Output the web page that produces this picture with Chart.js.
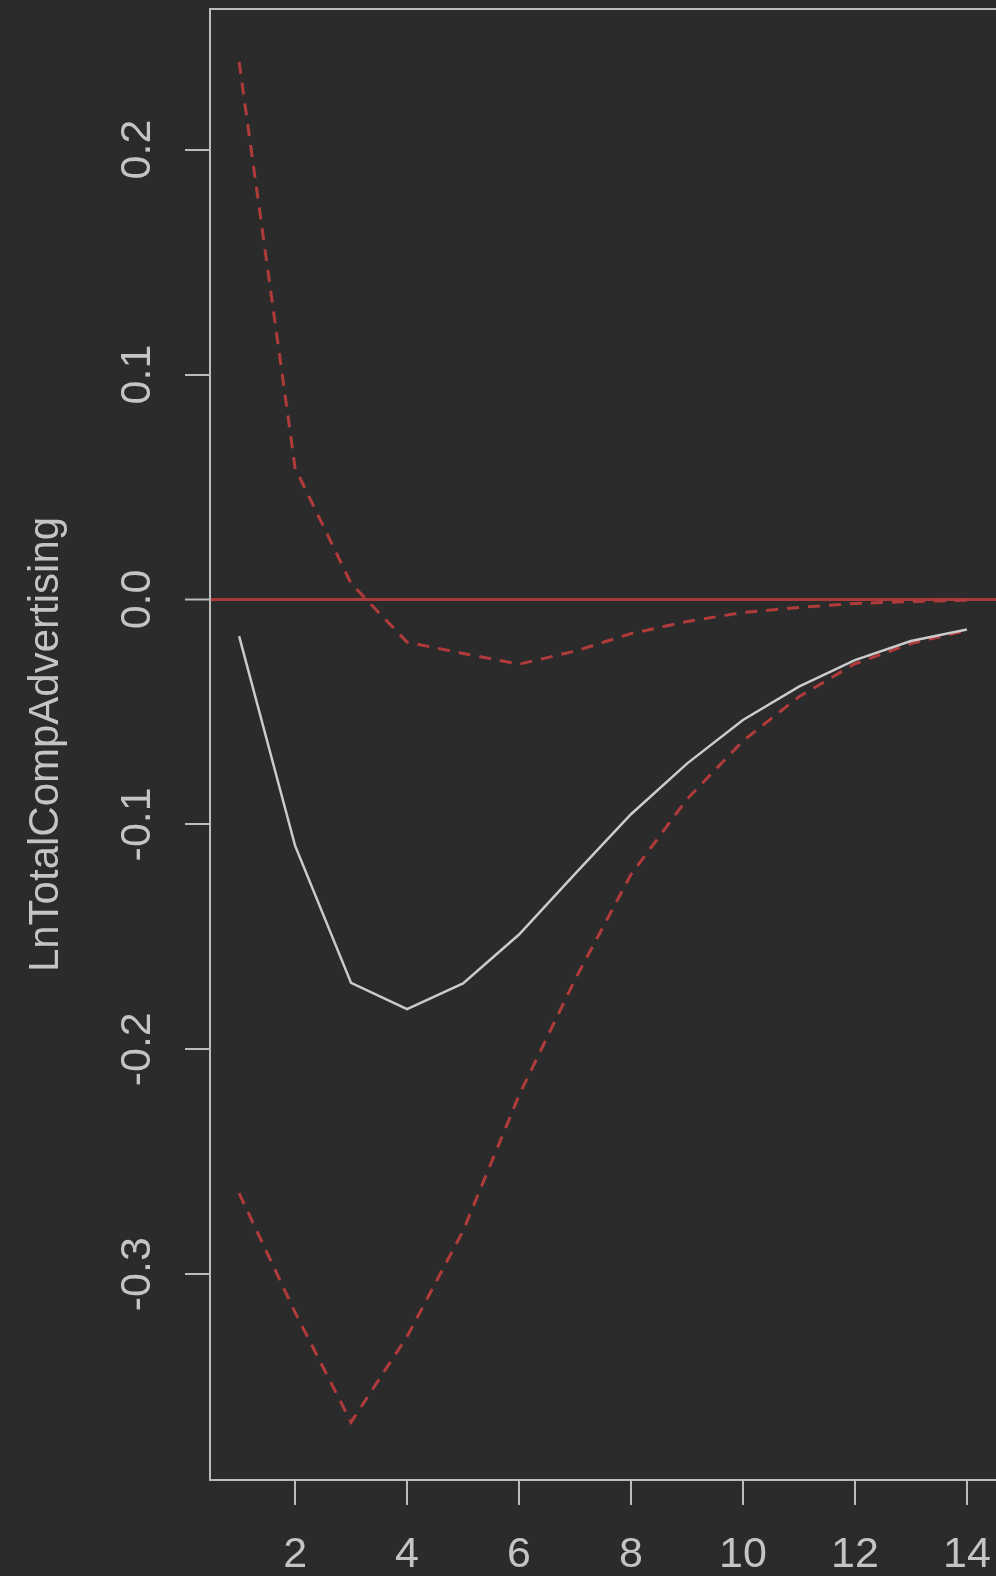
<!DOCTYPE html>
<html>
<head>
<meta charset="utf-8">
<script src="https://cdn.jsdelivr.net/npm/chart.js@4.4.1/dist/chart.umd.min.js"></script>
<style>
  html, body { margin: 0; padding: 0; background: #2b2b2b; }
  canvas { display: block; }
</style>
</head>
<body>
<canvas id="irf" width="996" height="1576"></canvas>
<script>
// impulse response with its bootstrap band, horizons 1..14
const horizons = [1, 2, 3, 4, 5, 6, 7, 8, 9, 10, 11, 12, 13, 14];
const response = [-0.0163, -0.1095, -0.1705, -0.1822, -0.1707, -0.1490, -0.1220, -0.0955, -0.0730, -0.0536, -0.0388, -0.0270, -0.0185, -0.0134];
const upperBand = [0.2390, 0.0585, 0.0071, -0.0190, -0.0240, -0.0288, -0.0230, -0.0152, -0.0098, -0.0058, -0.0036, -0.0018, -0.0009, -0.0004];
const lowerBand = [-0.2640, -0.3170, -0.3658, -0.3277, -0.2808, -0.2205, -0.1690, -0.1223, -0.0888, -0.0629, -0.0433, -0.0286, -0.0196, -0.0138];

const xTicks = [2, 4, 6, 8, 10, 12, 14];
const yTicks = [-0.3, -0.2, -0.1, 0.0, 0.1, 0.2];
const yTitle = 'LnTotalCompAdvertising';

const xRange = [0.48, 14.52];
const yRange = [-0.3915, 0.2625];

const FG = '#c4c4c4';
const AXIS = '#bcbcbc';
const RED = '#b03b3b';
const FONT = "'Liberation Sans', Arial, sans-serif";

const toPoints = vals => horizons.map((h, i) => ({ x: h, y: vals[i] }));

// keep rotated / edge labels from pushing the plot box inwards
const noPad = s => { s.paddingTop = 0; s.paddingBottom = 0; s.paddingLeft = 0; s.paddingRight = 0; };

new Chart(document.getElementById('irf'), {
  type: 'line',
  data: {
    datasets: [
      { data: toPoints(response), borderColor: '#cbcbcb', borderWidth: 2.5, pointRadius: 0, tension: 0 },
      { data: toPoints(upperBand), borderColor: RED, borderWidth: 3, borderDash: [12, 9], pointRadius: 0, tension: 0 },
      { data: toPoints(lowerBand), borderColor: RED, borderWidth: 3, borderDash: [12, 9], pointRadius: 0, tension: 0 }
    ]
  },
  options: {
    responsive: false,
    animation: false,
    devicePixelRatio: 1,
    layout: { padding: 0 },
    plugins: { legend: { display: false }, tooltip: { enabled: false } },
    scales: {
      x: {
        type: 'linear', position: 'bottom',
        min: xRange[0], max: xRange[1],
        afterBuildTicks: s => { s.ticks = xTicks.map(v => ({ value: v })); },
        afterFit: s => { s.height = 96; noPad(s); },
        grid: { drawOnChartArea: false, color: AXIS, tickLength: 25, lineWidth: 2 },
        border: { display: true, color: AXIS, width: 2 },
        ticks: { color: FG, font: { family: FONT, size: 43 }, padding: 24, maxRotation: 0, autoSkip: false }
      },
      top: {
        type: 'linear', position: 'top',
        min: xRange[0], max: xRange[1],
        afterFit: s => { s.height = 9; noPad(s); },
        grid: { display: false },
        border: { display: true, color: AXIS, width: 2 },
        ticks: { display: false }
      },
      y: {
        type: 'linear', position: 'left',
        min: yRange[0], max: yRange[1],
        afterBuildTicks: s => { s.ticks = yTicks.map(v => ({ value: v })); },
        afterFit: s => { s.width = 210; noPad(s); },
        grid: {
          drawOnChartArea: true,
          color: c => (c.tick && c.tick.value === 0 ? '#a83a3a' : 'rgba(0,0,0,0)'),
          lineWidth: c => (c.tick && c.tick.value === 0 ? 3 : 0),
          tickColor: AXIS, tickWidth: 2, tickLength: 25
        },
        border: { display: true, color: AXIS, width: 2 },
        ticks: {
          color: FG, font: { family: FONT, size: 43 },
          minRotation: 90, maxRotation: 90, crossAlign: 'center', padding: 10,
          callback: v => v.toFixed(1)
        },
        title: {
          display: true, text: yTitle, color: FG,
          font: { family: FONT, size: 42 },
          padding: { top: 21, bottom: 0 }
        }
      }
    }
  }
});
</script>
</body>
</html>
